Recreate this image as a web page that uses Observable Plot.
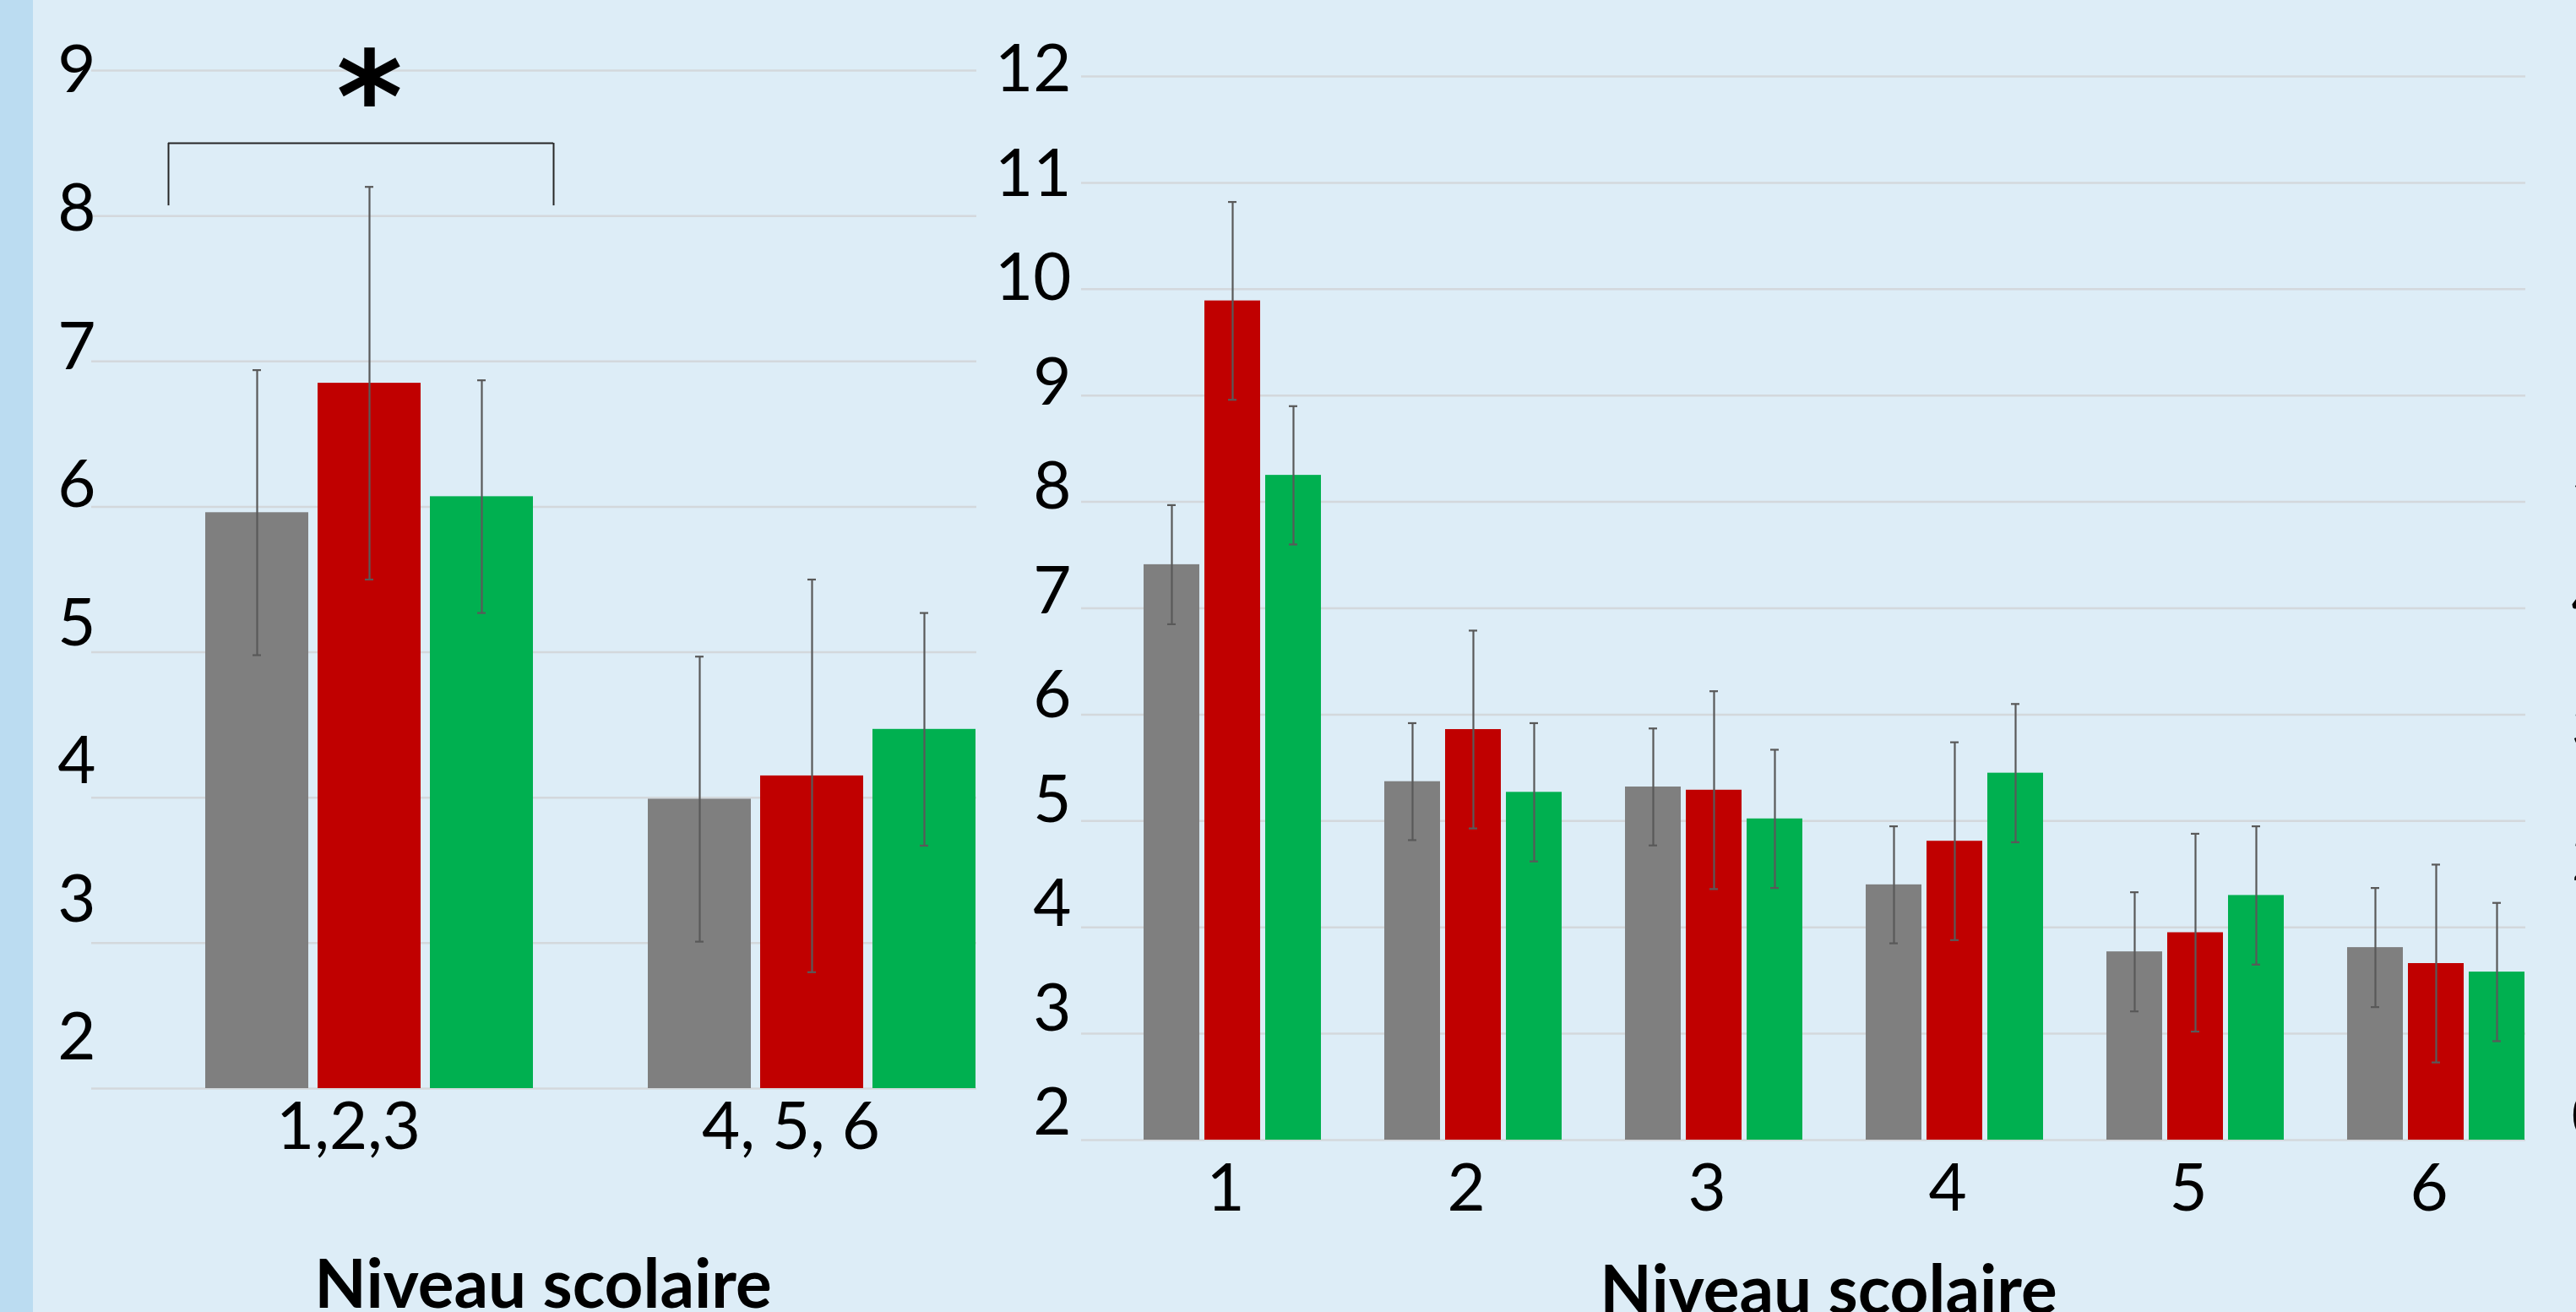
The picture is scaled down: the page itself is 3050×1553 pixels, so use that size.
<!DOCTYPE html>
<html><head><meta charset="utf-8">
<script src="https://cdn.jsdelivr.net/npm/d3@7"></script>
<script src="https://cdn.jsdelivr.net/npm/@observablehq/plot@0.6"></script>
<style>
html,body{margin:0;padding:0;overflow:hidden;background:#DDEDF7;}
#page{position:relative;width:3050px;height:1553px;background:#DDEDF7;overflow:hidden;font-family:Lato,sans-serif;}
#stripe{position:absolute;left:0;top:0;width:39px;height:1553px;background:#BBDCF1;}
.panel{position:absolute;top:0;}
.xtitle{position:absolute;font-family:Lato,sans-serif;font-weight:bold;font-size:80px;white-space:nowrap;transform:translateX(-50%);line-height:80px;color:#000;}
</style></head>
<body><div id="page"><div id="stripe"></div></div>
<script>
// ---- data ----
const seriesNames = ["Groupe gris", "Groupe rouge", "Groupe vert"];
const seriesColors = ["#7F7F7F", "#C00000", "#00B050"];

const leftGroups = ["1,2,3", "4, 5, 6"];
const leftGray = [5.96, 3.99];
const leftRed = [6.85, 4.15];
const leftGreen = [6.07, 4.47];
const leftGrayErr = [0.98, 0.98];
const leftRedErr = [1.35, 1.35];
const leftGreenErr = [0.80, 0.80];
const leftTicks = [2, 3, 4, 5, 6, 7, 8, 9];

const rightGroups = ["1", "2", "3", "4", "5", "6"];
const rightGray = [7.41, 5.37, 5.32, 4.40, 3.77, 3.81];
const rightRed = [9.89, 5.86, 5.29, 4.81, 3.95, 3.66];
const rightGreen = [8.25, 5.27, 5.02, 5.45, 4.30, 3.58];
const rightGrayErr = [0.56, 0.55, 0.55, 0.55, 0.56, 0.56];
const rightRedErr = [0.93, 0.93, 0.93, 0.93, 0.93, 0.93];
const rightGreenErr = [0.65, 0.65, 0.65, 0.65, 0.65, 0.65];
const rightTicks = [2, 3, 4, 5, 6, 7, 8, 9, 10, 11, 12];

// significance bracket between the two school-level groups (left panel)
const bracketLow = 8.07, bracketHigh = 8.5, starLevel = 8.98;
const edgeTicks = [0, 1, 2, 3, 4, 5]; // axis of the next (cut-off) chart

const xTitle = "Niveau scolaire";

// ---- build tables ----
function rows(groups, means, errs) {
  const out = [];
  groups.forEach((g, i) => seriesNames.forEach((s, j) =>
    out.push({group: g, series: s, value: means[j][i], err: errs[j][i]})));
  return out;
}
const leftData = rows(leftGroups, [leftGray, leftRed, leftGreen], [leftGrayErr, leftRedErr, leftGreenErr]);
const rightData = rows(rightGroups, [rightGray, rightRed, rightGreen], [rightGrayErr, rightRedErr, rightGreenErr]);
const bracket = [{group: leftGroups[0], from: seriesNames[0], mid: seriesNames[1], to: seriesNames[2],
  low: bracketLow, high: bracketHigh, star: starLevel, label: "*"}];

const spacer = " ";
const lo = d => d.value - d.err;
const hi = d => d.value + d.err;
const errStroke = "#595959";
const gridStroke = "#D3D8DC";
const font = "Lato, sans-serif";
const fmt = d => String(d);
const baseStyle = {background: "transparent", fontFamily: font, color: "#000", overflow: "visible"};

function panel(opts) {
  const {data, groups, ticks, yMax, width, margins, capInset, fxDx, fxPad, extra} = opts;
  return Plot.plot({
    width, height: 1553,
    marginLeft: margins[0], marginRight: margins[1], marginTop: margins[2], marginBottom: margins[3],
    style: baseStyle,
    fx: {domain: groups, paddingInner: 0, paddingOuter: 0, axis: null, label: null},
    x: {domain: [spacer, ...seriesNames], paddingInner: 0.085, paddingOuter: 0, axis: null, label: null},
    y: {domain: [2, yMax], axis: null, label: null},
    color: {domain: seriesNames, range: seriesColors},
    marks: [
      Plot.gridY(ticks, {stroke: gridStroke, strokeOpacity: 1, strokeWidth: 2.5}),
      Plot.axisFx({anchor: "bottom", tickSize: 0, tickPadding: fxPad, fontSize: 78, dx: fxDx, label: null, fontFamily: font}),
      Plot.barY(data, {fx: "group", x: "series", y1: 2, y2: "value", fill: "series"}),
      Plot.ruleX(data, {fx: "group", x: "series", y1: lo, y2: hi, stroke: errStroke, strokeWidth: 2.2}),
      Plot.tickY(data, {fx: "group", x: "series", y: lo, stroke: errStroke, strokeWidth: 2.2, insetLeft: capInset, insetRight: capInset}),
      Plot.tickY(data, {fx: "group", x: "series", y: hi, stroke: errStroke, strokeWidth: 2.2, insetLeft: capInset, insetRight: capInset}),
      ...(extra || [])
    ]
  });
}

// the tick labels of the source image sit on a slightly different vertical scale than the grid
function yLabels(ticks, yMin, yMax, width, marginLeft, top, bottom, pad, anchor) {
  return Plot.plot({
    width, height: 1553, marginLeft, marginRight: anchor === "right" ? width - marginLeft : 0,
    marginTop: top, marginBottom: 1553 - bottom,
    style: baseStyle,
    y: {domain: [yMin, yMax], axis: null, label: null},
    marks: [Plot.axisY(ticks, {anchor: anchor || "left", tickSize: 0, tickPadding: pad, fontSize: 78, fontFamily: font,
      tickFormat: fmt, label: null, textAnchor: anchor === "right" ? "start" : "end"})]
  });
}

const page = document.getElementById("page");
function place(svg, x) { svg.classList.add("panel"); svg.style.left = x + "px"; page.appendChild(svg); }

place(panel({
  data: leftData, groups: leftGroups, ticks: leftTicks, yMax: 9, width: 1200,
  margins: [107, 44, 83, 265], capInset: 56, fxDx: 42, fxPad: 16,
  extra: [
    Plot.ruleY(bracket, {fx: "group", y: "high", x1: "from", x2: "to", insetLeft: -44, insetRight: -24, stroke: "#262626", strokeWidth: 2}),
    Plot.ruleX(bracket, {fx: "group", x: "from", y1: "low", y2: "high", dx: -105, stroke: "#262626", strokeWidth: 2}),
    Plot.ruleX(bracket, {fx: "group", x: "to", y1: "low", y2: "high", dx: 85, stroke: "#262626", strokeWidth: 2}),
    Plot.text(bracket, {fx: "group", x: "mid", y: "star", text: "label", fontSize: 150, fontWeight: "bold", fontFamily: "DejaVu Sans", dy: 33, fill: "#000"})
  ]
}), 0);
place(yLabels(leftTicks, 2, 9, 200, 107, 84, 1229, -6), 0);

place(panel({
  data: rightData, groups: rightGroups, ticks: rightTicks, yMax: 12, width: 1910,
  margins: [138, 59, 90, 204], capInset: 28, fxDx: 28, fxPad: 28
}), 1140);
place(yLabels(rightTicks, 2, 12, 200, 138, 83, 1318, 10), 1140);

// partial axis of the neighbouring chart, cut by the right edge
place(yLabels(edgeTicks, 0, 5, 120, 44, 556, 1323, 0, "right"), 3000);

function addTitle(cx, baseline) {
  const d = document.createElement("div");
  d.className = "xtitle";
  d.textContent = xTitle;
  d.style.left = cx + "px";
  d.style.top = (baseline - 64) + "px";
  page.appendChild(d);
}
addTitle(643, 1541);
addTitle(2165, 1548);
</script></body></html>
